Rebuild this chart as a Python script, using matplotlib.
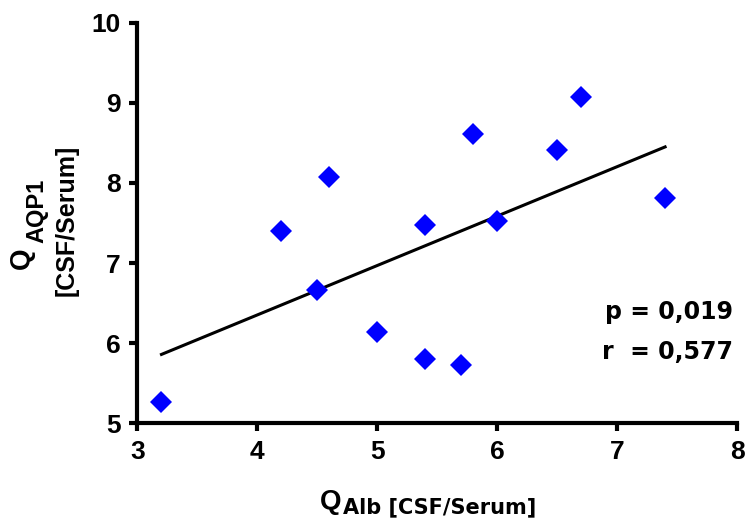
import matplotlib
matplotlib.use('Agg')
import matplotlib.pyplot as plt

plt.rcParams['font.family'] = ['Liberation Sans', 'DejaVu Sans']
plt.rcParams['font.weight'] = 'bold'

# Data
q_alb = [3.2, 4.2, 4.5, 4.6, 5.0, 5.4, 5.4, 5.7, 5.8, 6.0, 6.5, 6.7, 7.4]
q_aqp1 = [5.26, 7.40, 6.66, 8.07, 6.14, 7.47, 5.80, 5.73, 8.61, 7.52, 8.41, 9.07, 7.81]
fit_x = [3.2, 7.4]
fit_y = [5.86, 8.45]
x_ticks = [3, 4, 5, 6, 7, 8]
y_ticks = [5, 6, 7, 8, 9, 10]

W, H = 746, 526
fig = plt.figure(figsize=(W / 100, H / 100), dpi=100)
ax = fig.add_axes([0.1843, 0.1952, 0.988 - 0.1843, 0.9568 - 0.1952])

ax.plot(fit_x, fit_y, color='black', linewidth=2.2, zorder=2)
ax.plot(q_alb, q_aqp1, linestyle='none', marker='D', markersize=11,
        color='#0000FF', markeredgewidth=0, zorder=3)

ax.set_xlim(3, 8)
ax.set_ylim(5, 10)
ax.set_xticks(x_ticks)
ax.set_yticks(y_ticks)
for s in ['top', 'right']:
    ax.spines[s].set_visible(False)
for s in ['left', 'bottom']:
    ax.spines[s].set_linewidth(3)
ax.tick_params(width=3, length=6, labelsize=19, pad=6)
for lab in ax.get_xticklabels() + ax.get_yticklabels():
    lab.set_fontweight('bold')

# statistics
ax.text(0.993, 0.278, 'p = 0,019', transform=ax.transAxes, ha='right',
        va='center', fontsize=17, fontweight='bold', family='DejaVu Sans')
ax.text(0.993, 0.178, 'r  = 0,577', transform=ax.transAxes, ha='right',
        va='center', fontsize=17, fontweight='bold', family='DejaVu Sans')

# x axis label: Q with subscript
fig.text(320 / W, 1 - 509 / H, 'Q', ha='left', va='baseline',
         fontsize=20, fontweight='bold')
fig.text(343 / W, 1 - 513 / H, 'Alb [CSF/Serum]', ha='left', va='baseline',
         fontsize=15, fontweight='bold', family='DejaVu Sans')

# y axis label: Q with subscript, unit on second line
fig.text(22 / W, 1 - 258 / H, 'Q', rotation=90, ha='center', va='center',
         fontsize=20, fontweight='bold')
fig.text(37 / W, 1 - 211 / H, 'AQP1', rotation=90, ha='center', va='center',
         fontsize=17, fontweight='bold')
fig.text(67 / W, 1 - 220 / H, '[CSF/Serum]', rotation=90,
         ha='center', va='center', fontsize=18, fontweight='bold')

fig.savefig('out.png', dpi=100)
